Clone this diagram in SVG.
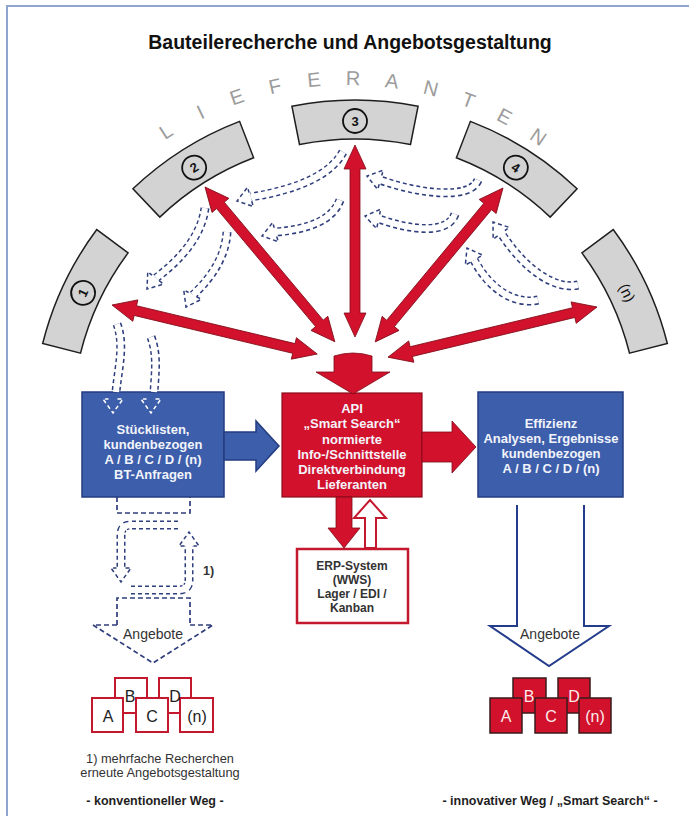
<svg xmlns="http://www.w3.org/2000/svg" xmlns:xlink="http://www.w3.org/1999/xlink" width="689" height="816" viewBox="0 0 689 816">
<style>
.t{font-family:"Liberation Sans",Arial,sans-serif}
.title{font-size:19.5px;font-weight:bold;fill:#111;text-anchor:middle}
.lf{font-size:20px;fill:#9c9c9c;text-anchor:middle}
.seg{fill:#d3d3d3;stroke:#1e1e1e;stroke-width:1.5}
.numc{fill:none;stroke:#111;stroke-width:1.8}
.num{font-size:13px;font-weight:bold;fill:#111;text-anchor:middle}
.red{fill:#d2112c;stroke:#7e0b17;stroke-width:0.8}
.blue{fill:#3d5eab;stroke:#233d80;stroke-width:1.5}
.redbox{fill:#d2112c;stroke:#8a0e1c;stroke-width:1.2}
.wt{font-size:13px;font-weight:bold;fill:#f2f4fb;text-anchor:middle}
.dt{font-size:12px;font-weight:bold;fill:#333;text-anchor:middle}
.dA{fill:none;stroke:#2f3e7c;stroke-width:9;stroke-dasharray:4 3}
.dB{fill:none;stroke:#fff;stroke-width:6}
.hd{fill:#fff;stroke:#2f3e7c;stroke-width:1.5;stroke-dasharray:4 3}
.hdw{fill:none;stroke:#fff;stroke-width:1.5;stroke-dasharray:4 3}
.dl{fill:none;stroke:#2f3e7c;stroke-width:1.7;stroke-dasharray:5 3}
.sl{fill:none;stroke:#243c8c;stroke-width:2}
.ob{fill:#fff;stroke:#c4182f;stroke-width:2}
.fb{fill:#d2112c;stroke:#3a1b1b;stroke-width:1.5}
.lt{font-size:16px;fill:#222;text-anchor:middle}
.ltw{font-size:16px;fill:#fbecec;text-anchor:middle}
.ang{font-size:14px;fill:#333;text-anchor:middle}
.fn{font-size:12.8px;fill:#333;text-anchor:middle}
.ft{font-size:12.5px;font-weight:bold;fill:#1e1e1e;text-anchor:middle}
</style>
<defs>
<path id="segp" d="M291.9,106.2 A322,322 0 0 1 418.1,106.2 L410.5,144.5 A283,283 0 0 0 299.5,144.5 Z"/>
<polyline id="head" points="-14,-4.5 -14,-10 0,0 -14,10 -14,4.5"/>
</defs>
<rect x="7" y="6" width="700" height="830" fill="#fff" stroke="#8fa4cf" stroke-width="2"/>
<text class="t title" x="350" y="49">Bauteilerecherche und Angebotsgestaltung</text>
<g id="lieferanten-label" class="t lf">
<text x="348" y="85" transform="rotate(-32.6 348 416)">L</text>
<text x="348" y="85" transform="rotate(-25.9 348 416)">I</text>
<text x="348" y="85" transform="rotate(-19.2 348 416)">E</text>
<text x="348" y="85" transform="rotate(-12.5 348 416)">F</text>
<text x="348" y="85" transform="rotate(-5.8 348 416)">E</text>
<text x="348" y="85" transform="rotate(0.85 348 416)">R</text>
<text x="348" y="85" transform="rotate(7.5 348 416)">A</text>
<text x="348" y="85" transform="rotate(14.2 348 416)">N</text>
<text x="348" y="85" transform="rotate(20.9 348 416)">T</text>
<text x="348" y="85" transform="rotate(27.6 348 416)">E</text>
<text x="348" y="85" transform="rotate(34.3 348 416)">N</text>
</g>
<g id="lieferant-1" transform="rotate(-64.6 355 422)"><use xlink:href="#segp" class="seg"/><circle cx="355" cy="121" r="12" class="numc"/><text class="t num" x="355" y="125.5">1</text></g>
<g id="lieferant-2" transform="rotate(-32.3 355 422)"><use xlink:href="#segp" class="seg"/><circle cx="355" cy="121" r="12" class="numc"/><text class="t num" x="355" y="125.5">2</text></g>
<g id="lieferant-3"><use xlink:href="#segp" class="seg"/><circle cx="355" cy="121" r="12" class="numc"/><text class="t num" x="355" y="125.5">3</text></g>
<g id="lieferant-4" transform="rotate(32.3 355 422)"><use xlink:href="#segp" class="seg"/><circle cx="355" cy="121" r="12" class="numc"/><text class="t num" x="355" y="125.5">4</text></g>
<g id="lieferant-n" transform="rotate(64.6 355 422)"><use xlink:href="#segp" class="seg"/><text class="t" x="355" y="126" font-size="15" fill="#111" text-anchor="middle">(n)</text></g>
<g id="stuecklisten">
<rect x="82" y="392" width="142" height="105" class="blue"/>
<text class="t wt" x="153" y="434">Stücklisten,</text>
<text class="t wt" x="153" y="449">kundenbezogen</text>
<text class="t wt" x="153" y="464">A / B / C / D / (n)</text>
<text class="t wt" x="153" y="479">BT-Anfragen</text>
</g>
<g id="api">
<rect x="282" y="393" width="140" height="104" class="redbox"/>
<text class="t wt" x="352" y="413">API</text>
<text class="t wt" x="352" y="428">„Smart Search“</text>
<text class="t wt" x="352" y="444">normierte</text>
<text class="t wt" x="352" y="459">Info-/Schnittstelle</text>
<text class="t wt" x="352" y="474">Direktverbindung</text>
<text class="t wt" x="352" y="489">Lieferanten</text>
</g>
<g id="effizienz">
<rect x="478" y="392" width="145" height="105" class="blue"/>
<text class="t wt" x="551" y="428">Effizienz</text>
<text class="t wt" x="551" y="443">Analysen, Ergebnisse</text>
<text class="t wt" x="551" y="458">kundenbezogen</text>
<text class="t wt" x="551" y="473">A / B / C / D / (n)</text>
</g>
<g id="erp">
<rect x="297" y="549" width="111" height="74" fill="#fff" stroke="#c4182f" stroke-width="2.5"/>
<text class="t dt" x="352" y="570">ERP-System</text>
<text class="t dt" x="352" y="584">(WWS)</text>
<text class="t dt" x="352" y="598">Lager / EDI /</text>
<text class="t dt" x="352" y="612">Kanban</text>
</g>
<g id="angebote-konventionell">
<rect x="115" y="678" width="32" height="35" class="ob"/>
<rect x="159" y="678" width="32" height="35" class="ob"/>
<rect x="92" y="698" width="31" height="34" class="ob"/>
<rect x="136" y="698" width="32" height="34" class="ob"/>
<rect x="180" y="698" width="33" height="34" class="ob"/>
<text class="t lt" x="130" y="702">B</text>
<text class="t lt" x="175" y="702">D</text>
<text class="t lt" x="108" y="722">A</text>
<text class="t lt" x="152" y="722">C</text>
<text class="t lt" x="197" y="722">(n)</text>
</g>
<g id="angebote-innovativ">
<rect x="513" y="678" width="33" height="35" class="fb"/>
<rect x="558" y="678" width="32" height="35" class="fb"/>
<rect x="490" y="698" width="32" height="35" class="fb"/>
<rect x="535" y="698" width="32" height="35" class="fb"/>
<rect x="579" y="698" width="32" height="35" class="fb"/>
<text class="t ltw" x="529" y="702">B</text>
<text class="t ltw" x="574" y="702">D</text>
<text class="t ltw" x="506" y="722">A</text>
<text class="t ltw" x="551" y="722">C</text>
<text class="t ltw" x="595" y="722">(n)</text>
</g>
<g id="connectors">
<!-- dashed conventional arrows -->
<path class="dA" d="M343,152 Q325,185 251,197"/><path class="dB" d="M343,152 Q325,185 251,197"/><use xlink:href="#head" class="hd" transform="translate(237,201) rotate(163)"/>
<path class="dA" d="M340,200 Q330,228 275,232"/><path class="dB" d="M340,200 Q330,228 275,232"/><use xlink:href="#head" class="hd" transform="translate(262,236) rotate(164)"/>
<path class="dA" d="M478,180 C470,200 420,194 380,180"/><path class="dB" d="M478,180 C470,200 420,194 380,180"/><use xlink:href="#head" class="hd" transform="translate(367,176) rotate(196)"/>
<path class="dA" d="M455,214 C448,235 410,230 379,219"/><path class="dB" d="M455,214 C448,235 410,230 379,219"/><use xlink:href="#head" class="hd" transform="translate(365,216) rotate(192)"/>
<path class="dA" d="M578,285 C555,290 525,270 501,233"/><path class="dB" d="M578,285 C555,290 525,270 501,233"/><use xlink:href="#head" class="hd" transform="translate(493,222) rotate(234)"/>
<path class="dA" d="M538,300 C515,305 490,290 474,260"/><path class="dB" d="M538,300 C515,305 490,290 474,260"/><use xlink:href="#head" class="hd" transform="translate(467,248) rotate(240)"/>
<path class="dA" d="M205,208 Q200,245 156,278"/><path class="dB" d="M205,208 Q200,245 156,278"/><use xlink:href="#head" class="hd" transform="translate(147,289) rotate(128)"/>
<path class="dA" d="M227,232 Q225,265 193,295"/><path class="dB" d="M227,232 Q225,265 193,295"/><use xlink:href="#head" class="hd" transform="translate(186,307) rotate(118)"/>
<path class="dA" d="M117,324 C125,345 118,370 116,392"/><path class="dB" d="M117,324 C125,345 118,370 116,392"/><use xlink:href="#head" class="hdw" transform="translate(113,413) rotate(90)"/>
<path class="dA" d="M151,337 C158,355 155,375 154,392"/><path class="dB" d="M151,337 C158,355 155,375 154,392"/><use xlink:href="#head" class="hdw" transform="translate(151,413) rotate(90)"/>
<!-- research loop -->
<polyline class="dl" points="117,497 117,513 190,513 190,497"/>
<path class="dA" d="M178,525 L131,525 Q121,525 121,535 L121,568"/><path class="dB" d="M178,525 L131,525 Q121,525 121,535 L121,568"/><use xlink:href="#head" class="hd" transform="translate(121,582) rotate(90)"/>
<path class="dA" d="M131,590 L179,590 Q189,590 189,580 L189,546"/><path class="dB" d="M131,590 L179,590 Q189,590 189,580 L189,546"/><use xlink:href="#head" class="hd" transform="translate(189,532) rotate(-90)"/>
<polyline class="dl" points="117,625 117,598 190,598 190,625"/>
<polyline class="dl" points="117,625 93,625 153,663 213,625 190,625"/>
<text class="t" x="203" y="575" font-size="12.5" font-weight="bold" fill="#333">1)</text>
<text class="t ang" x="153" y="639">Angebote</text>
<!-- innovative outline arrow -->
<polyline class="sl" points="517,505 517,626 490,626 549,666 609,626 584,626 584,505"/>
<text class="t ang" x="550" y="639">Angebote</text>
<!-- red double arrows -->
<polygon class="red" transform="translate(112,305) rotate(13.44)" points="0,0 24,-11 24,-5 187,-5 187,-11 211,0 187,11 187,5 24,5 24,11"/>
<polygon class="red" transform="translate(205,187) rotate(50)" points="0,0 24,-11 24,-5 178,-5 178,-11 202,0 178,11 178,5 24,5 24,11"/>
<polygon class="red" transform="translate(355,145) rotate(90)" points="0,0 24,-11 24,-5 168,-5 168,-11 192,0 168,11 168,5 24,5 24,11"/>
<polygon class="red" transform="translate(503,188) rotate(129.7)" points="0,0 24,-11 24,-5 176,-5 176,-11 200,0 176,11 176,5 24,5 24,11"/>
<polygon class="red" transform="translate(597,307) rotate(166.5)" points="0,0 24,-11 24,-5 191,-5 191,-11 215,0 191,11 191,5 24,5 24,11"/>
<path class="red" d="M334,356 Q353,350 372,356 L372,372 L390,372 L353,394 L316,372 L334,372 Z"/>
<polygon class="blue" points="224,432 256,432 256,421 279,446 256,471 256,460 224,460"/>
<polygon class="red" points="422,432 452,432 452,421 476,447 452,473 452,462 422,462"/>
<polygon class="red" points="336,497 352,497 352,528 360,528 344,548 328,528 336,528"/>
<polygon fill="#fff" stroke="#c4182f" stroke-width="2" points="365,548 365,518 354,518 370,500 386,518 376,518 376,548"/>
</g>
<g id="footnotes">
<text class="t fn" x="160" y="763">1) mehrfache Recherchen</text>
<text class="t fn" x="160" y="777">erneute Angebotsgestaltung</text>
<text class="t ft" x="155" y="805">- konventioneller Weg -</text>
<text class="t ft" x="550" y="805">- innovativer Weg / „Smart Search“ -</text>
</g>
</svg>
